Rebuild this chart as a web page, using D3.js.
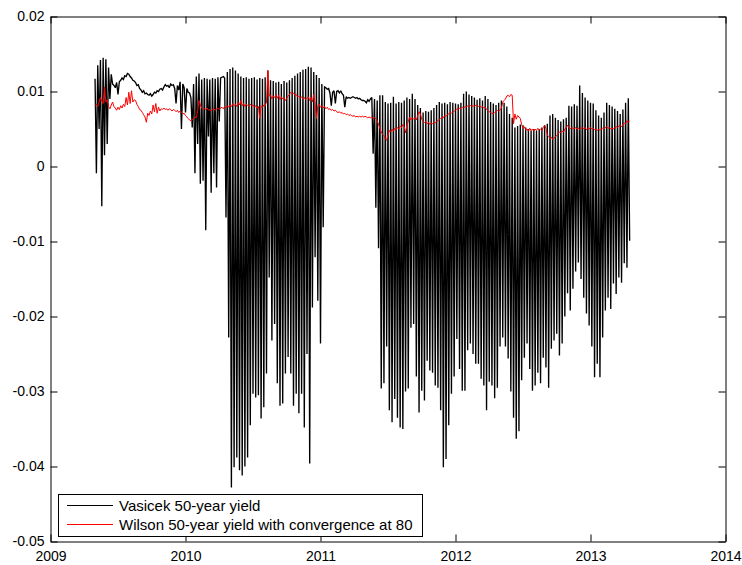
<!DOCTYPE html>
<html>
<head>
<meta charset="utf-8">
<script src="https://cdn.jsdelivr.net/npm/d3@7"></script>
<style>
  html, body { margin: 0; padding: 0; background: #fff; }
  svg { display: block; }
  text { font-family: "Liberation Sans", Arial, Helvetica, sans-serif; fill: #000; }
</style>
</head>
<body>
<svg id="chart" width="742" height="565"></svg>
<script>
// Observation grid: first observation (decimal year) and spacing between observations
const startYear = 2009.33;
const stepYear = 0.01;

// Vasicek 50-year yield, values in units of 1e-3
const vasicek = [
  11.7, -0.9, 13.5, 5, 14.2, -5.3, 14.5, 1.5, 14.3, 3,
  13.2, 9, 12.3, 11.0, 10.8, 10.5, 11.2, 9.6, 11.3, 11.5,
  11.8, 11.6, 12.1, 12.0, 12.4, 12.3, 12.0, 11.8, 11.5, 11.4,
  11.2, 10.8, 10.9, 10.4, 10.2, 9.9, 10.1, 9.7, 9.8, 9.6,
  9.5, 9.7, 9.4, 9.6, 9.9, 9.8, 10.1, 10.0, 10.3, 10.4,
  10.2, 10.6, 10.9, 10.7, 10.8, 10.5, 11.0, 10.8, 10.9, 10.4,
  8.4, 10.8, 10.2, 11.3, 5.0, 11.0, 10.5, 7.2, 10.4, 9.9,
  9.8, 9.2, 5.2, 11.0, -0.9, 12.0, 3.0, 12.4, -2.3, 11.6,
  -1.9, 11.8, -8.5, 11.7, 4.0, 11.6, -3.5, 11.8, -0.9, 11.7,
  -2.8, 11.9, 6.0, 11.8, 11.9, 12.0, 11.8, -6.8, 12.6, -22.8,
  13.0, -42.8, 13.2, -40.1, 12.8, -38.8, 12.4, -40.5, 12.0, -41.2,
  11.8, -40.0, 11.9, -38.8, 11.7, -34.5, 11.8, -30.3, 11.9, -30.8,
  11.6, -30.5, 11.8, -33.6, 11.7, -32.1, 11.9, -27.6, 12.8, -14.8,
  11.5, -23.2, 11.4, -21.0, 11.2, -28.9, 11.3, -31.9, 11.0, -31.6,
  11.4, -27.6, 11.2, -25.4, 11.5, -27.6, 11.8, -31.9, 12.1, -30.3,
  12.4, -32.9, 12.6, -30.3, 12.9, -34.8, 13.0, -25.0, 13.3, -39.6,
  13.2, -18.8, 12.6, -12.1, 12.2, -17.9, 11.8, -23.6, 11.0, -8.1,
  10.6, 10.5, 10.3, 10.4, 9.8, 8.1, 9.9, 10.1, 8.4, 10.0,
  10.1, 9.8, 10.1, 9.7, 9.5, 7.9, 9.3, 9.1, 9.2, 9.1,
  9.2, 9.3, 9.2, 9.1, 9.2, 9.0, 9.1, 8.9, 8.8, 8.8,
  8.7, 8.5, 8.9, 8.7, 9.0, 9.2, 1.7, 9.0, -5.5, 8.8,
  -10.9, 9.5, -29.6, 9.5, -28.9, 8.6, -24.0, 8.4, -32.5, 8.5,
  -34.1, 9.3, -31.0, 8.4, -33.5, 8.6, -34.8, 8.5, -35.0, 8.8,
  -30.0, 9.2, -29.6, 9.0, -21.5, 9.7, -21.0, 9.0, -28.0, 8.2,
  -32.8, 7.8, -29.9, 7.2, -31.2, 7.4, -25.9, 7.3, -27.2, 7.5,
  -27.5, 7.8, -29.2, 8.2, -29.5, 8.6, -32.5, 8.4, -40.1, 8.5,
  -39.0, 8.3, -34.5, 8.6, -30.3, 8.5, -28.0, 8.4, -23.0, 8.3,
  -27.0, 8.5, -29.9, 9.7, -29.9, 10.0, -24.5, 9.6, -23.6, 9.4,
  -25.0, 9.2, -26.3, 8.9, -26.3, 9.1, -28.3, 8.8, -29.2, 9.4,
  -32.5, 9.0, -28.7, 8.6, -29.2, 8.4, -30.9, 8.2, -29.5, 8.5,
  -24.0, 8.8, -22.8, 8.5, -24.0, 8.0, -25.6, 7.0, -30.0, 6.5,
  -33.5, 5.2, -36.3, 5.4, -35.3, 5.6, -28.5, 5.5, -25.5, 5.2,
  -23.6, 5.0, -27.0, 4.8, -29.9, 5.0, -29.2, 4.8, -27.5, 5.0,
  -28.9, 5.2, -25.5, 5.5, -26.8, 5.7, -29.5, 6.8, -24.3, 7.0,
  -23.2, 6.5, -22.3, 6.2, -25.2, 6.0, -23.6, 6.3, -20.0, 6.5,
  -16.9, 8.1, -19.2, 8.0, -16.3, 8.3, -14.0, 8.1, -12.8, 10.8,
  -15.0, 9.8, -17.5, 9.2, -19.6, 8.8, -21.2, 8.5, -24.0, 8.4,
  -28.1, 7.5, -26.3, 6.8, -28.1, 6.5, -22.8, 7.2, -19.2, 8.5,
  -17.5, 8.2, -19.0, 8.0, -15.6, 7.7, -17.0, 7.4, -14.8, 7.0,
  -15.5, 7.6, -12.9, 8.5, -13.5, 9.1, -9.9
];

// Wilson 50-year yield with convergence at 80, values in units of 1e-3
const wilson = [
  8.1, 8.3, 8.0, 8.6, 9.2, 8.7, 8.4, 10.6, 8.6, 8.9,
  8.0, 7.7, 8.2, 8.6, 8.0, 7.8, 7.5, 7.9, 7.6, 8.1,
  7.8, 8.3, 8.0, 9.2, 8.2, 9.9, 8.4, 10.1, 8.6, 8.9,
  8.8, 8.3, 8.0, 7.6, 7.5, 7.2, 6.9, 6.6, 5.9, 7.1,
  6.8, 7.4, 7.0, 8.2, 7.3, 8.4, 7.1, 7.9, 7.4, 7.7,
  7.6, 7.8, 7.6, 7.7, 7.5, 7.7, 7.6, 7.4, 7.6, 7.5,
  7.3, 7.5, 7.2, 7.4, 7.2, 7.0, 7.1, 6.8, 6.6, 6.4,
  6.2, 6.1, 6.2, 6.4, 6.6, 6.5, 7.4, 8.8, 8.2, 7.8,
  7.6, 7.7, 7.6, 7.8, 7.5, 7.6, 7.4, 7.6, 7.7, 7.5,
  7.7, 7.8, 7.6, 7.8, 7.9, 7.7, 8.0, 7.8, 8.1, 7.9,
  8.2, 8.0, 8.4, 8.1, 8.3, 8.0, 8.5, 8.2, 8.8, 8.1,
  8.4, 8.0, 8.3, 8.2, 8.0, 8.3, 8.1, 8.2, 7.9, 8.1,
  7.8, 8.0, 6.4, 8.1, 7.9, 8.2, 8.1, 8.6, 12.8, 9.4,
  9.5, 9.0, 9.4, 9.2, 9.6, 9.1, 9.5, 8.9, 9.3, 9.0,
  9.2, 8.8, 9.1, 9.4, 9.6, 9.9, 9.7, 9.8, 9.5, 9.6,
  9.3, 9.4, 9.1, 9.3, 9.0, 9.2, 8.9, 9.1, 9.3, 8.8,
  9.2, 8.6, 9.6, 8.3, 6.4, 8.1, 8.3, 7.9, 8.1, 7.8,
  8.0, 7.7, 7.9, 7.6, 7.7, 7.5, 7.6, 7.4, 7.5, 7.3,
  7.2, 7.3, 7.1, 7.2, 7.0, 7.1, 6.9, 7.0, 6.8, 6.9,
  6.8, 6.7, 6.8, 6.6, 6.7, 6.6, 6.7, 6.6, 6.7, 6.6,
  6.7, 6.6, 6.5, 6.6, 6.5, 6.6, 6.4, 6.5, 6.4, 6.1,
  5.6, 5.1, 4.6, 4.3, 4.1, 3.7, 3.5, 4.2, 4.8, 4.6,
  5.0, 4.7, 5.1, 4.9, 5.2, 5.0, 5.4, 5.2, 5.6, 5.3,
  4.5, 5.5, 6.0, 6.6, 6.2, 6.5, 6.3, 6.5, 6.2, 6.8,
  7.3, 7.0, 6.3, 6.0, 5.8, 6.0, 5.7, 5.9, 5.6, 5.8,
  5.7, 5.9, 5.8, 6.0, 6.1, 6.3, 6.4, 6.6, 6.5, 6.8,
  6.7, 6.9, 7.0, 7.2, 7.1, 7.3, 7.4, 7.5, 7.7, 7.6,
  7.8, 7.7, 7.9, 7.8, 8.0, 7.9, 8.1, 8.0, 8.2, 8.0,
  8.1, 8.0, 8.2, 8.1, 8.0, 8.1, 7.9, 8.0, 7.8, 7.9,
  7.6, 7.5, 7.3, 7.2, 7.1, 7.0, 7.2, 7.3, 7.5, 7.4,
  7.5, 7.8, 8.6, 8.8, 9.0, 9.4, 9.5, 9.3, 9.6, 9.5,
  5.7, 7.0, 6.3, 6.8, 6.6, 6.4, 5.6, 5.1, 5.3, 4.9,
  5.0, 4.7, 5.1, 4.8, 5.0, 4.7, 5.0, 4.8, 5.1, 4.9,
  5.0, 4.8, 5.2, 5.5, 5.1, 4.2, 4.0, 3.7, 3.9, 3.6,
  3.8, 4.0, 4.1, 4.4, 4.6, 4.5, 4.7, 4.6, 5.0, 5.2,
  5.5, 5.2, 5.0, 5.2, 5.1, 5.0, 5.2, 5.0, 5.1, 4.9,
  5.1, 5.2, 5.0, 5.2, 4.9, 5.1, 5.0, 5.2, 5.0, 5.1,
  4.9, 5.0, 4.8, 5.0, 4.8, 5.0, 5.1, 5.0, 5.2, 5.3,
  5.1, 5.2, 5.0, 5.1, 5.0, 5.2, 5.3, 5.2, 5.4, 5.5,
  5.3, 5.6, 5.8, 5.7, 6.1, 5.9, 6.1
];

const xTickValues = [2009, 2010, 2011, 2012, 2013, 2014];
const yTickValues = [0.02, 0.01, 0, -0.01, -0.02, -0.03, -0.04, -0.05];
const seriesNames = ["Vasicek 50-year yield", "Wilson 50-year yield with convergence at 80"];
const seriesColors = ["#000000", "#ff0000"];
const seriesWidths = [1.35, 1];

const svg = d3.select("#chart");
const W = 742, H = 565;
const plotLeft = 50.5, plotRight = 725.5, plotTop = 16.5, plotBottom = 541.5;

const x = d3.scaleLinear().domain([2009, 2014]).range([plotLeft, plotRight]);
const y = d3.scaleLinear().domain([-0.05, 0.02]).range([plotBottom, plotTop]);

svg.append("rect").attr("width", W).attr("height", H).attr("fill", "#fff");

const toPoints = arr => arr.map((v, i) => [startYear + i * stepYear, v / 1000]);
const line = d3.line().x(d => x(d[0])).y(d => y(d[1]));

const series = [toPoints(vasicek), toPoints(wilson)];

series.forEach((pts, k) => {
  svg.append("path")
    .datum(pts)
    .attr("d", line)
    .attr("fill", "none")
    .attr("stroke", seriesColors[k])
    .attr("stroke-width", seriesWidths[k])
    .attr("stroke-linejoin", "miter")
    .attr("stroke-miterlimit", 2);
});

const fmtY = d => (Math.abs(d) < 1e-12 ? "0" : d.toFixed(2));

// Axes (MATLAB-style inward ticks on all four sides)
const gx = svg.append("g").attr("transform", `translate(0,${plotBottom})`)
  .call(d3.axisBottom(x).tickValues(xTickValues).tickSizeInner(-7).tickSizeOuter(0).tickPadding(10).tickFormat(d3.format("d")));
const gxt = svg.append("g").attr("transform", `translate(0,${plotTop})`)
  .call(d3.axisTop(x).tickValues(xTickValues).tickSizeInner(-7).tickSizeOuter(0).tickFormat(""));
const gy = svg.append("g").attr("transform", `translate(${plotLeft},0)`)
  .call(d3.axisLeft(y).tickValues(yTickValues).tickSizeInner(-7).tickSizeOuter(0).tickPadding(6).tickFormat(fmtY));
const gyr = svg.append("g").attr("transform", `translate(${plotRight},0)`)
  .call(d3.axisRight(y).tickValues(yTickValues).tickSizeInner(-7).tickSizeOuter(0).tickFormat(""));

[gx, gxt, gy, gyr].forEach(g => {
  g.selectAll("path.domain").attr("stroke", "#000").attr("stroke-width", 1);
  g.selectAll(".tick line").attr("stroke", "#000").attr("stroke-width", 1);
  g.selectAll("text").attr("font-size", 14).attr("fill", "#000")
    .attr("font-family", '"Liberation Sans", Arial, sans-serif');
});

// Legend
const lg = svg.append("g");
lg.append("rect").attr("x", 58.5).attr("y", 494.5).attr("width", 364).attr("height", 42)
  .attr("fill", "#fff").attr("stroke", "#000").attr("stroke-width", 1);
seriesNames.forEach((name, k) => {
  const yy = 505.5 + k * 19;
  lg.append("line").attr("x1", 67).attr("x2", 113).attr("y1", yy).attr("y2", yy)
    .attr("stroke", seriesColors[k]).attr("stroke-width", 1);
  lg.append("text").attr("x", 119).attr("y", yy).attr("dy", "0.35em")
    .attr("font-size", 15).text(name);
});
</script>
</body>
</html>
